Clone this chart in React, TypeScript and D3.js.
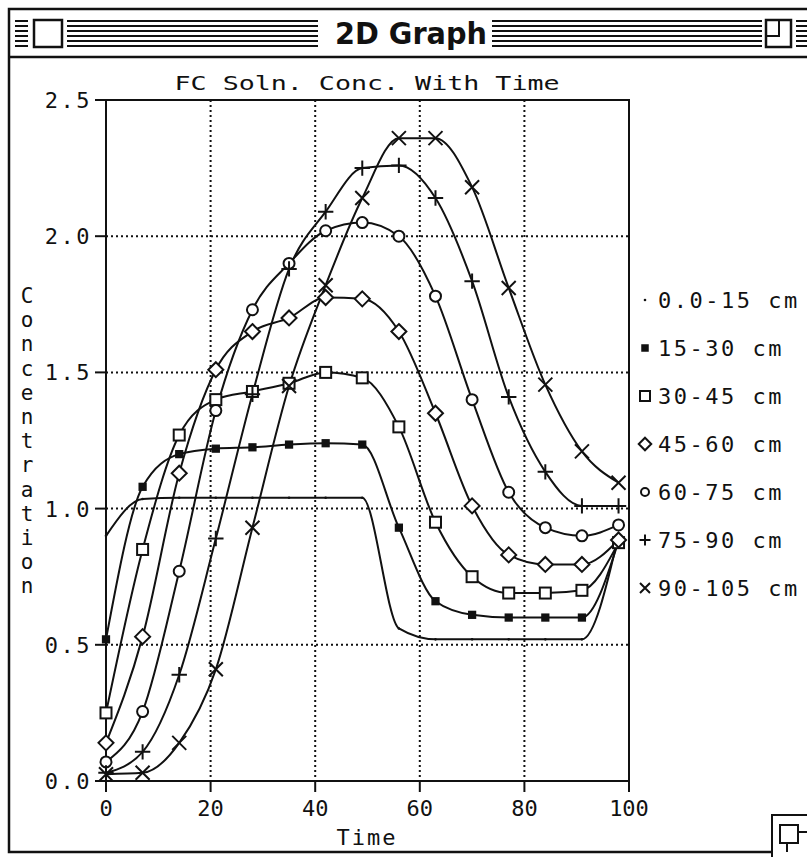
import React from 'react';
import * as d3 from 'd3';

// ---- data ----
const times = [0, 7, 14, 21, 28, 35, 42, 49, 56, 63, 70, 77, 84, 91, 98];
const seriesNames = ['0.0-15 cm', '15-30 cm', '30-45 cm', '45-60 cm', '60-75 cm', '75-90 cm', '90-105 cm'];
const markerTypes = ['dot', 'filledSquare', 'square', 'diamond', 'circle', 'plus', 'cross'];
const depth0_15 = [0.90, 1.035, 1.04, 1.04, 1.04, 1.04, 1.04, 1.04, 0.56, 0.52, 0.52, 0.52, 0.52, 0.52, 0.90];
const depth15_30 = [0.52, 1.08, 1.20, 1.22, 1.225, 1.235, 1.24, 1.235, 0.93, 0.66, 0.61, 0.60, 0.60, 0.60, 0.88];
const depth30_45 = [0.25, 0.85, 1.27, 1.40, 1.43, 1.46, 1.50, 1.48, 1.30, 0.95, 0.75, 0.69, 0.69, 0.70, 0.875];
const depth45_60 = [0.14, 0.53, 1.13, 1.51, 1.65, 1.70, 1.775, 1.77, 1.65, 1.35, 1.01, 0.83, 0.795, 0.795, 0.885];
const depth60_75 = [0.07, 0.255, 0.77, 1.36, 1.73, 1.90, 2.02, 2.05, 2.00, 1.78, 1.40, 1.06, 0.93, 0.90, 0.94];
const depth75_90 = [0.03, 0.107, 0.39, 0.89, 1.42, 1.88, 2.09, 2.25, 2.26, 2.14, 1.835, 1.41, 1.135, 1.01, 1.01];
const depth90_105 = [0.025, 0.03, 0.14, 0.41, 0.93, 1.45, 1.82, 2.14, 2.36, 2.36, 2.18, 1.81, 1.455, 1.21, 1.095];
const xTicks = [0, 20, 40, 60, 80, 100];
const yTicks = [0, 0.5, 1.0, 1.5, 2.0, 2.5];
const yLabelText = 'Concentration';

const allSeries = [depth0_15, depth15_30, depth30_45, depth45_60, depth60_75, depth75_90, depth90_105];

const W = 807;
const H = 857;
const MONO = '"DejaVu Sans Mono", "Liberation Mono", monospace';

function Marker({ type, x, y, s }: { type: string; x: number; y: number; s: number }) {
  const h = s / 2;
  const common = { stroke: '#111', strokeWidth: 2, fill: 'white' } as any;
  switch (type) {
    case 'dot':
      return <circle cx={x} cy={y} r={1.3} fill="#111" />;
    case 'filledSquare':
      return <rect x={x - h * 0.75} y={y - h * 0.75} width={s * 0.75} height={s * 0.75} fill="#111" />;
    case 'square':
      return <rect x={x - h} y={y - h} width={s} height={s} {...common} />;
    case 'diamond': {
      const d = h * 1.25;
      return <path d={`M${x},${y - d}L${x + d},${y}L${x},${y + d}L${x - d},${y}Z`} {...common} />;
    }
    case 'circle':
      return <circle cx={x} cy={y} r={h} {...common} />;
    case 'plus':
      return <path d={`M${x - h * 1.1},${y}H${x + h * 1.1}M${x},${y - h * 1.1}V${y + h * 1.1}`} stroke="#111" strokeWidth={2} fill="none" />;
    case 'cross':
      return <path d={`M${x - h},${y - h}L${x + h},${y + h}M${x - h},${y + h}L${x + h},${y - h}`} stroke="#111" strokeWidth={2} fill="none" />;
  }
  return null;
}

export default function App() {
  const x = d3.scaleLinear().domain([0, 100]).range([106, 629]);
  const y = d3.scaleLinear().domain([0, 2.5]).range([781, 100]);
  const line = d3
    .line<number>()
    .x((_, i) => x(times[i]))
    .y((d) => y(d))
    .curve(d3.curveMonotoneX);

  const stripeYs = [21, 26, 31, 36, 41, 46];
  const legendY0 = 300;
  const legendStep = 48;

  return (
    <svg
      width={W}
      height={H}
      viewBox={`0 0 ${W} ${H}`}
      style={{ position: 'absolute', left: 0, top: 0, background: 'white', display: 'block' }}
    >
      <rect x={0} y={0} width={W} height={H} fill="white" />
      {/* window frame */}
      <rect x={9} y={9} width={W + 20} height={843} fill="none" stroke="#111" strokeWidth={2.5} />
      <line x1={9} x2={W} y1={57} y2={57} stroke="#111" strokeWidth={2.5} />
      {/* title bar stripes */}
      {stripeYs.map((sy) => (
        <g key={sy}>
          <line x1={15} x2={28} y1={sy} y2={sy} stroke="#111" strokeWidth={2} />
          <line x1={67} x2={318} y1={sy} y2={sy} stroke="#111" strokeWidth={2} />
          <line x1={492} x2={762} y1={sy} y2={sy} stroke="#111" strokeWidth={2} />
          <line x1={796} x2={W} y1={sy} y2={sy} stroke="#111" strokeWidth={2} />
        </g>
      ))}
      <rect x={34} y={20} width={28} height={27} fill="white" stroke="#111" strokeWidth={2.5} />
      <rect x={766} y={20} width={25} height={27} fill="white" stroke="#111" strokeWidth={2.5} />
      <path d="M766,36H779V20" fill="none" stroke="#111" strokeWidth={2} />
      <text
        x={411}
        y={44}
        textAnchor="middle"
        textLength={152}
        lengthAdjust="spacingAndGlyphs"
        fontFamily='"DejaVu Sans Condensed", "Liberation Sans Narrow", "DejaVu Sans", sans-serif'
        fontWeight="bold"
        fontSize={30}
        fill="#111"
      >
        2D Graph
      </text>

      {/* grow box */}
      <rect x={772} y={815} width={50} height={50} fill="white" stroke="#111" strokeWidth={2} />
      <rect x={780} y={825} width={18} height={18} fill="white" stroke="#111" strokeWidth={2} />
      <path d="M798,832H810M787,843V852" fill="none" stroke="#111" strokeWidth={2} />

      {/* chart title */}
      <text
        x={367}
        y={90}
        textAnchor="middle"
        textLength={385}
        lengthAdjust="spacingAndGlyphs"
        fontFamily={MONO}
        fontSize={20}
        fill="#111"
      >
        FC Soln. Conc. With Time
      </text>

      {/* grid */}
      {xTicks
        .filter((t) => t > 0 && t < 100)
        .map((t) => (
          <line key={'gx' + t} x1={x(t)} x2={x(t)} y1={y(2.5)} y2={y(0)} stroke="#111" strokeWidth={2} strokeDasharray="2,3" />
        ))}
      {yTicks
        .filter((t) => t > 0 && t < 2.5)
        .map((t) => (
          <line key={'gy' + t} x1={x(0)} x2={x(100)} y1={y(t)} y2={y(t)} stroke="#111" strokeWidth={2} strokeDasharray="2,3" />
        ))}

      {/* plot frame */}
      <rect x={x(0)} y={y(2.5)} width={x(100) - x(0)} height={y(0) - y(2.5)} fill="none" stroke="#111" strokeWidth={2} />

      {/* axis ticks and labels */}
      {yTicks.map((t) => (
        <g key={'yt' + t}>
          <line x1={x(0) - 11} x2={x(0)} y1={y(t)} y2={y(t)} stroke="#111" strokeWidth={2} />
          <text
            x={92}
            y={y(t) + 8}
            textAnchor="end"
            fontFamily={MONO}
            fontSize={22}
            letterSpacing={2.5}
            fill="#111"
          >
            {t.toFixed(1)}
          </text>
        </g>
      ))}
      {xTicks.map((t) => (
        <g key={'xt' + t}>
          <line x1={x(t)} x2={x(t)} y1={y(0)} y2={y(0) + 11} stroke="#111" strokeWidth={2} />
          <text x={x(t)} y={816} textAnchor="middle" fontFamily={MONO} fontSize={22} fill="#111">
            {t}
          </text>
        </g>
      ))}
      <text x={367} y={845} textAnchor="middle" fontFamily={MONO} fontSize={22} letterSpacing={2} fill="#111">
        Time
      </text>
      {yLabelText.split('').map((ch, i) => (
        <text
          key={'yl' + i}
          x={27}
          y={297 + i * 24.2 + 6}
          textAnchor="middle"
          fontFamily={MONO}
          fontSize={21}
          fill="#111"
        >
          {ch}
        </text>
      ))}

      {/* series */}
      {allSeries.map((vals, si) => (
        <path key={'line' + si} d={line(vals) || ''} fill="none" stroke="#111" strokeWidth={2} />
      ))}
      {allSeries.map((vals, si) =>
        vals.map((v, i) => (
          <Marker
            key={'m' + si + '-' + i}
            type={markerTypes[si]}
            x={x(times[i])}
            y={y(v)}
            s={si === 3 ? 12 : si >= 5 ? 14 : 11}
          />
        ))
      )}

      {/* legend */}
      {seriesNames.map((name, i) => (
        <g key={'lg' + i}>
          <Marker type={markerTypes[i]} x={645} y={legendY0 + i * legendStep} s={i === 3 ? 10 : i === 4 ? 8 : 10} />
          <text
            x={658}
            y={legendY0 + i * legendStep + 8}
            fontFamily={MONO}
            fontSize={22}
            letterSpacing={2.5}
            fill="#111"
          >
            {name}
          </text>
        </g>
      ))}
    </svg>
  );
}
